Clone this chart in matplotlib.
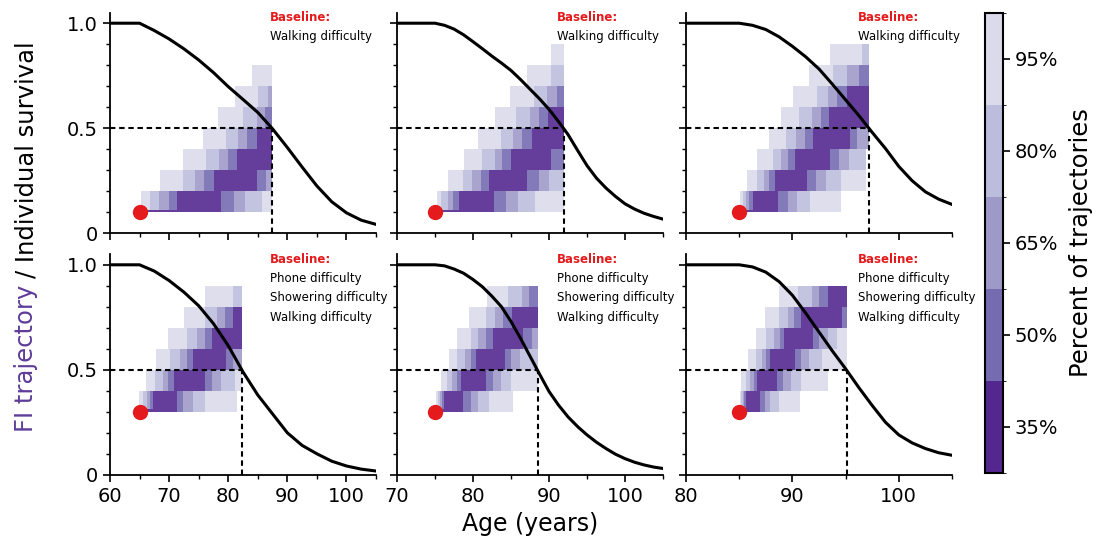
import matplotlib
matplotlib.use("Agg")
import matplotlib.pyplot as plt
import numpy as np
from matplotlib.colors import ListedColormap, BoundaryNorm, to_rgb
from matplotlib.cm import ScalarMappable
from matplotlib.ticker import MultipleLocator

# ---- values ----
PCT_LABELS = ["35%", "50%", "65%", "80%", "95%"]
BAND_COLORS = ["#54278f", "#756bb1", "#9e9ac8", "#bcbddc", "#dadaeb"]  # 35% ... 95%

XMIN = [60, 70, 80, 60, 70, 80]
START_AGE = [65, 75, 85, 65, 75, 85]
START_FI = [0.1, 0.1, 0.1, 0.3, 0.3, 0.3]
MEDIAN_DEATH = [87.45, 91.95, 97.2, 82.3, 88.5, 95.1]
BASELINE = [["Walking difficulty"]] * 3 + \
           [["Phone difficulty", "Showering difficulty", "Walking difficulty"]] * 3

# FI rows (bottom edge) and age edges of the nested percentile bands in each row:
# 95lo, 80lo, 65lo, 50lo, 35lo, 35hi, 50hi, 65hi, 80hi, 95hi (cut at median death age)
FI_ROWS_1 = [0.1, 0.2, 0.3, 0.4, 0.5, 0.6, 0.7]
BANDS_1 = [[65.2, 66.8, 68.35, 69.9, 71.3, 78.7, 80.9, 82.85, 85.65, 87.45],
           [68.45, 72.3, 74.4, 75.9, 77.6, 84.8, 86.35, 87.45],
           [72.4, 76.25, 78.45, 80.0, 81.55, 87.45],
           [75.7, 79.6, 81.7, 83.1, 84.95, 87.45],
           [78.3, 82.45, 84.8, 86.25, 87.45],
           [81.15, 85.1, 86.8, 87.45],
           [84.0, 87.45]]
FI_ROWS_2 = [0.1, 0.2, 0.3, 0.4, 0.5, 0.6, 0.7, 0.8]
BANDS_2 = [[75.2, 75.85, 76.65, 77.4, 78.15, 82.8, 84.3, 85.95, 88.15, 91.95],
           [76.75, 78.7, 79.9, 81.05, 82.1, 87.15, 88.65, 89.95, 91.95],
           [78.85, 81.2, 82.9, 83.8, 85.05, 90.25, 91.95],
           [80.7, 83.65, 85.3, 86.45, 87.7, 91.95],
           [82.9, 85.6, 87.5, 88.65, 89.9, 91.95],
           [84.85, 88.05, 89.8, 91.05, 91.95],
           [87.05, 90.3, 91.95],
           [90.2, 91.95]]
FI_ROWS_3 = [0.1, 0.2, 0.3, 0.4, 0.5, 0.6, 0.7, 0.8]
BANDS_3 = [[85.1, 85.35, 85.65, 85.95, 86.25, 88.65, 89.55, 90.4, 91.65, 94.6],
           [85.7, 86.65, 87.3, 87.8, 88.35, 91.35, 92.2, 93.15, 94.6, 96.95],
           [86.7, 88.15, 88.9, 89.55, 90.2, 93.55, 94.4, 95.3, 96.95],
           [87.8, 89.4, 90.3, 91.15, 91.95, 95.4, 96.1, 97.2],
           [88.9, 90.65, 91.8, 92.65, 93.45, 97.2],
           [90.1, 92.3, 93.35, 94.2, 95.15, 97.2],
           [91.55, 93.85, 95.15, 96.25, 97.2],
           [93.55, 96.55, 97.2]]
FI_ROWS_4 = [0.3, 0.4, 0.5, 0.6, 0.7, 0.8]
BANDS_4 = [[64.95, 65.55, 66.2, 66.75, 67.35, 71.4, 72.4, 74.1, 76.05, 81.55],
           [66.1, 67.6, 68.9, 69.85, 70.85, 76.05, 77.2, 78.75, 81.15, 82.3],
           [67.8, 70.15, 71.85, 73.1, 74.1, 79.65, 80.85, 82.3],
           [69.85, 73.1, 74.65, 76.05, 77.2, 82.3],
           [72.5, 76.05, 78.05, 79.45, 80.85, 82.3],
           [76.05, 80.75, 82.3]]
FI_ROWS_5 = [0.3, 0.4, 0.5, 0.6, 0.7, 0.8]
BANDS_5 = [[75.1, 75.35, 75.65, 75.95, 76.2, 78.7, 79.7, 80.7, 82.1, 85.3],
           [75.8, 76.55, 77.25, 77.85, 78.4, 81.65, 82.65, 83.65, 85.0, 88.5],
           [76.85, 77.95, 79.0, 79.7, 80.45, 84.2, 85.05, 86.15, 88.5],
           [77.95, 79.7, 80.7, 81.65, 82.65, 86.6, 87.7, 88.5],
           [79.45, 81.65, 82.9, 83.95, 85.15, 88.5],
           [81.8, 84.65, 86.4, 87.35, 88.5]]
FI_ROWS_6 = [0.3, 0.4, 0.5, 0.6, 0.7, 0.8]
BANDS_6 = [[85.1, 85.2, 85.35, 85.45, 85.65, 86.95, 87.4, 87.9, 88.75, 90.7],
           [85.15, 85.65, 86.05, 86.35, 86.65, 88.55, 89.15, 89.85, 90.85, 93.3],
           [85.85, 86.55, 87.1, 87.5, 87.9, 90.2, 90.8, 91.55, 92.8, 95.1],
           [86.55, 87.5, 88.3, 88.85, 89.2, 91.95, 92.5, 93.35, 94.2, 95.1],
           [87.4, 88.75, 89.55, 90.15, 90.8, 94.7, 95.1],
           [88.75, 90.55, 91.8, 92.5, 93.3, 95.1]]

# individual survival curves
SURV_AGE_1 = [60, 65, 67.5, 70, 72.5, 75, 77.5, 80, 82.5, 85, 87.5, 90, 92.5, 95, 97.5, 100, 102.5, 105]
SURV_1 = [1, 1, 0.965, 0.925, 0.878, 0.825, 0.765, 0.698, 0.637, 0.575, 0.497, 0.408, 0.315, 0.225,
          0.15, 0.097, 0.062, 0.042]
SURV_AGE_2 = [70, 75, 76.25, 77.5, 78.75, 80, 81.25, 82.5, 83.75, 85, 86.25, 87.5, 88.75, 90,
              91.25, 92.5, 93.75, 95, 96.25, 97.5, 98.75, 100, 101.25, 102.5, 103.75, 105]
SURV_2 = [1, 1, 0.99, 0.972, 0.945, 0.912, 0.878, 0.843, 0.81, 0.775, 0.732, 0.686, 0.64, 0.59,
          0.532, 0.47, 0.395, 0.322, 0.262, 0.215, 0.175, 0.14, 0.115, 0.095, 0.08, 0.067]
SURV_AGE_3 = [80, 85, 86.25, 87.5, 88.75, 90, 91.25, 92.5, 93.75, 95, 96.25, 97.5, 98.75, 100,
              101.25, 102.5, 103.75, 105]
SURV_3 = [1, 1, 0.99, 0.97, 0.935, 0.89, 0.84, 0.782, 0.71, 0.635, 0.56, 0.48, 0.403, 0.318,
          0.25, 0.197, 0.162, 0.137]
SURV_AGE_4 = [60, 65, 67.5, 70, 72.5, 75, 77.5, 80, 82.5, 85, 87.5, 90, 92.5, 95, 97.5, 100, 102.5, 105]
SURV_4 = [1, 1, 0.97, 0.925, 0.87, 0.805, 0.72, 0.615, 0.49, 0.38, 0.29, 0.2, 0.14, 0.1, 0.065,
          0.042, 0.027, 0.018]
SURV_AGE_5 = [70, 75, 76.25, 77.5, 78.75, 80, 81.25, 82.5, 83.75, 85, 86.25, 87.5, 88.75, 90,
              91.25, 92.5, 93.75, 95, 96.25, 97.5, 98.75, 100, 101.25, 102.5, 103.75, 105]
SURV_5 = [1, 1, 0.995, 0.98, 0.96, 0.93, 0.895, 0.85, 0.8, 0.73, 0.65, 0.565, 0.48, 0.397, 0.332,
          0.276, 0.23, 0.19, 0.155, 0.125, 0.098, 0.077, 0.06, 0.047, 0.037, 0.03]
SURV_AGE_6 = [80, 85, 86.25, 87.5, 88.75, 90, 91.25, 92.5, 93.75, 95, 96.25, 97.5, 98.75, 100,
              101.25, 102.5, 103.75, 105]
SURV_6 = [1, 1, 0.99, 0.965, 0.92, 0.855, 0.77, 0.68, 0.59, 0.505, 0.415, 0.33, 0.25, 0.19, 0.152,
          0.125, 0.105, 0.093]

FI_ROWS = [FI_ROWS_1, FI_ROWS_2, FI_ROWS_3, FI_ROWS_4, FI_ROWS_5, FI_ROWS_6]
BANDS = [BANDS_1, BANDS_2, BANDS_3, BANDS_4, BANDS_5, BANDS_6]
SURV_AGE = [SURV_AGE_1, SURV_AGE_2, SURV_AGE_3, SURV_AGE_4, SURV_AGE_5, SURV_AGE_6]
SURV = [SURV_1, SURV_2, SURV_3, SURV_4, SURV_5, SURV_6]

# ---- styling ----
RED = "#e41a1c"
PURPLE = "#5e3c99"
ALPHA = 0.9
HEAT = [tuple(1 - ALPHA * (1 - c) for c in to_rgb(col)) for col in BAND_COLORS]
SEG_IDX = [4, 3, 2, 1, 0, 1, 2, 3, 4]   # band colour of each segment in a row
TEXT_X = [87.0, 91.0, 96.2, 87.0, 91.0, 96.2]

plt.rcParams["font.family"] = "DejaVu Sans"
W, H = 1099, 541
fig = plt.figure(figsize=(W / 100, H / 100), dpi=100)

LEFTS = [110, 397, 686]
AX_W = 266
TOPS = [12.7, 254.3]
AX_H = 220.5

axes = []
for r in range(2):
    for c in range(3):
        ax = fig.add_axes([LEFTS[c] / W, 1 - (TOPS[r] + AX_H) / H, AX_W / W, AX_H / H])
        axes.append(ax)

for k, ax in enumerate(axes):
    r, c = divmod(k, 3)
    # percentile bands of FI trajectory
    for fi, edges in zip(FI_ROWS[k], BANDS[k]):
        lefts = edges[:-1]
        widths = np.diff(edges)
        cols = [HEAT[SEG_IDX[i]] for i in range(len(lefts))]
        ax.barh(fi, widths, left=lefts, height=0.1, align="edge", color=cols,
                linewidth=0, zorder=1)
    # thin strip at starting FI
    ax.barh(START_FI[k], BANDS[k][0][4] - START_AGE[k], left=START_AGE[k], height=0.012,
            align="edge", color=HEAT[0], linewidth=0, zorder=1.5)

    ax.plot(SURV_AGE[k], SURV[k], color="black", lw=2.2, zorder=3, solid_joinstyle="round")
    ax.plot([XMIN[k], MEDIAN_DEATH[k]], [0.5, 0.5], color="black", lw=1.5, dashes=(2.6, 1.8), zorder=2)
    ax.plot([MEDIAN_DEATH[k], MEDIAN_DEATH[k]], [0, 0.5], color="black", lw=1.5, dashes=(2.6, 1.8), zorder=2)
    ax.plot(START_AGE[k], START_FI[k], "o", color=RED, ms=10, zorder=4, clip_on=False)

    ax.text(TEXT_X[k], 1.025, "Baseline:", color=RED, fontweight="bold", fontsize=8.5,
            va="center", ha="left")
    for j, line in enumerate(BASELINE[k]):
        ax.text(TEXT_X[k], 0.935 - 0.093 * j, line, fontsize=8.5, va="center", ha="left")

    ax.set_xlim(XMIN[k], 105)
    ax.set_ylim(0, 1.05)
    ax.xaxis.set_major_locator(MultipleLocator(10))
    ax.xaxis.set_minor_locator(MultipleLocator(5))
    ax.set_yticks([0, 0.5, 1.0])
    ax.set_yticklabels(["0", "0.5", "1.0"])
    ax.yaxis.set_minor_locator(MultipleLocator(0.1))
    for s in ("top", "right"):
        ax.spines[s].set_visible(False)
    for s in ("left", "bottom"):
        ax.spines[s].set_linewidth(1.3)
    ax.tick_params(which="major", length=5, width=1.2, labelsize=14, direction="out")
    ax.tick_params(which="minor", length=3, width=1.0, direction="out")
    if r == 0:
        ax.tick_params(labelbottom=False)
    if c > 0:
        ax.tick_params(labelleft=False)

# colorbar
cax = fig.add_axes([985 / W, 1 - 473 / H, 18 / W, 460 / H])
cmap = ListedColormap(BAND_COLORS)
norm = BoundaryNorm(np.arange(6), cmap.N)
sm = ScalarMappable(norm=norm, cmap=cmap)
cb = fig.colorbar(sm, cax=cax, ticks=np.arange(5) + 0.5)
cb.ax.set_yticklabels(PCT_LABELS)
cb.ax.tick_params(labelsize=14, length=5, width=1.2)
cb.outline.set_linewidth(1.5)
cb.set_label("Percent of trajectories", fontsize=17.5, labelpad=8)

# axis labels
fig.text(530 / W, 1 - 524 / H, "Age (years)", fontsize=17, ha="center", va="center")
t1 = fig.text(33 / W, 1 - 432 / H, "FI trajectory", color=PURPLE, fontsize=17.5,
              rotation=90, rotation_mode="anchor", ha="left", va="baseline")
fig.canvas.draw()
bb = t1.get_window_extent()
fig.text(33 / W, (bb.y1 + 7) / H, "/ Individual survival", fontsize=17.5,
         rotation=90, rotation_mode="anchor", ha="left", va="baseline")

fig.savefig("out.png", dpi=100)
